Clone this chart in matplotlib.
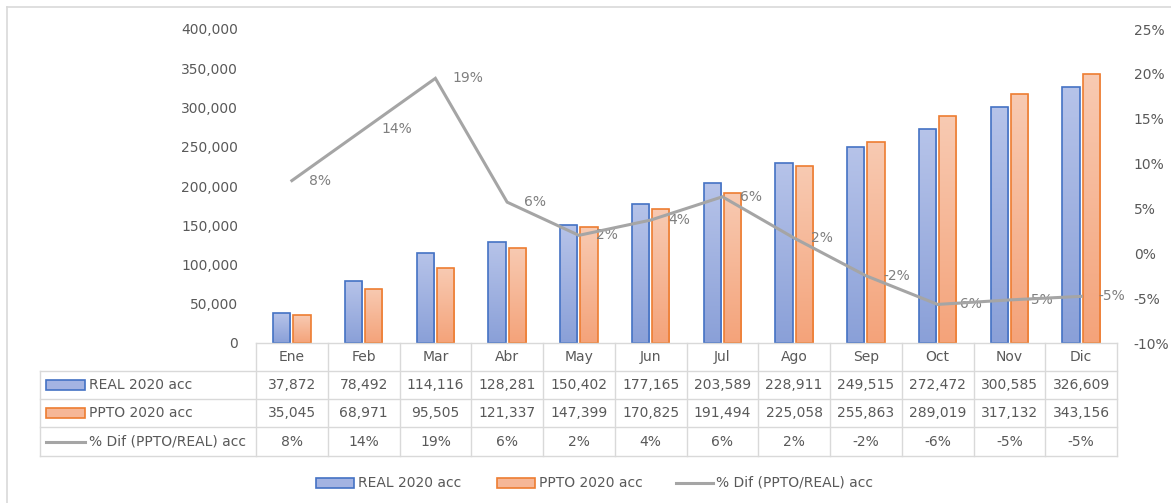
import matplotlib
matplotlib.use("Agg")
import matplotlib.pyplot as plt
import numpy as np
from matplotlib.patches import Rectangle
from matplotlib.lines import Line2D
from matplotlib.transforms import blended_transform_factory
from matplotlib.ticker import FuncFormatter, MultipleLocator

months = ["Ene", "Feb", "Mar", "Abr", "May", "Jun", "Jul", "Ago", "Sep", "Oct", "Nov", "Dic"]
real = [37872, 78492, 114116, 128281, 150402, 177165, 203589, 228911, 249515, 272472, 300585, 326609]
ppto = [35045, 68971, 95505, 121337, 147399, 170825, 191494, 225058, 255863, 289019, 317132, 343156]
pct = [8.1, 13.8, 19.5, 5.7, 2.0, 3.7, 6.3, 1.7, -2.5, -5.7, -5.2, -4.8]
pct_labels = ["8%", "14%", "19%", "6%", "2%", "4%", "6%", "2%", "-2%", "-6%", "-5%", "-5%"]
series_names = ["REAL 2020 acc", "PPTO 2020 acc", "% Dif (PPTO/REAL) acc"]

W, H = 1171, 503
plt.rcParams['font.family'] = ['DejaVu Sans']
fig = plt.figure(figsize=(W / 100, H / 100), dpi=100)

def fx(x):
    return x / W

def fy(y):
    return 1 - y / H

ax_l, ax_r, ax_t, ax_b = 256, 1117, 29, 343
ax = fig.add_axes([fx(ax_l), fy(ax_b), fx(ax_r - ax_l), (ax_b - ax_t) / H])
ax2 = ax.twinx()

TXT = "#595959"
GRID = "#d9d9d9"
BLUE_E = "#4472c4"
ORANGE_E = "#ed7d31"
LINE_C = "#a5a5a5"
blue_top, blue_bot = np.array([182, 195, 233]) / 255, np.array([138, 160, 216]) / 255
orng_top, orng_bot = np.array([248, 202, 178]) / 255, np.array([244, 163, 122]) / 255

x = np.arange(len(months))
bw = 0.24
off = 0.14
b1 = ax.bar(x - off, real, bw, facecolor="none", edgecolor=BLUE_E, linewidth=1.2, zorder=3)
b2 = ax.bar(x + off, ppto, bw, facecolor="none", edgecolor=ORANGE_E, linewidth=1.2, zorder=3)

def grad_fill(bars, top, bot):
    n = 64
    t = np.linspace(0, 1, n)[:, None]
    img = (top[None, :] * (1 - t) + bot[None, :] * t)[:, None, :]
    for p in bars:
        x0, y0 = p.get_x(), p.get_y()
        w, h = p.get_width(), p.get_height()
        im = ax.imshow(img, extent=[x0, x0 + w, y0, y0 + h], aspect="auto",
                       origin="upper", zorder=2, interpolation="bilinear")
        im.set_clip_path(p)

grad_fill(b1, blue_top, blue_bot)
grad_fill(b2, orng_top, orng_bot)

ax.set_xlim(-0.5, len(months) - 0.5)
ax.set_ylim(0, 400000)
ax.yaxis.set_major_locator(MultipleLocator(50000))
ax.yaxis.set_major_formatter(FuncFormatter(lambda v, p: f"{int(v):,}"))
ax.set_xticks([])
for s in ax.spines.values():
    s.set_visible(False)
for s in ax2.spines.values():
    s.set_visible(False)
ax.tick_params(axis="y", length=0, pad=13, labelsize=10, labelcolor=TXT)

ax2.plot(x, pct, color=LINE_C, linewidth=2.2, zorder=5, solid_joinstyle="miter")
ax2.set_ylim(-10, 25)
ax2.yaxis.set_major_locator(MultipleLocator(5))
ax2.yaxis.set_major_formatter(FuncFormatter(lambda v, p: f"{int(round(v))}%"))
ax2.tick_params(axis="y", length=0, pad=12, labelsize=10, labelcolor=TXT)
for xi, v, lab in zip(x, pct, pct_labels):
    ax2.annotate(lab, (xi, v), xytext=(12.5, 0), textcoords="offset points",
                 va="center", ha="left", fontsize=10, color="#7f7f7f",
                 annotation_clip=False)

# ---- data table ----
tr = blended_transform_factory(ax.transData, fig.transFigure)
rows_y = [343, 371, 399, 427, 456]
lab_left = 40
n = len(months)
fig.add_artist(Line2D([-0.5, n - 0.5], [fy(rows_y[0])] * 2, transform=tr, color=GRID, lw=1))
for yy in rows_y[1:]:
    fig.add_artist(Line2D([fx(lab_left), fx(ax_r)], [fy(yy)] * 2, color=GRID, lw=1))
for i in range(n + 1):
    fig.add_artist(Line2D([i - 0.5, i - 0.5], [fy(rows_y[0]), fy(rows_y[-1])], transform=tr, color=GRID, lw=1))
fig.add_artist(Line2D([fx(lab_left)] * 2, [fy(rows_y[1]), fy(rows_y[-1])], color=GRID, lw=1))

centers = [(rows_y[k] + rows_y[k + 1]) / 2 for k in range(4)]
for i, m in enumerate(months):
    fig.text(i, fy(centers[0]), m, transform=tr, ha="center", va="center", fontsize=10, color=TXT)
    fig.text(i, fy(centers[1]), f"{real[i]:,}", transform=tr, ha="center", va="center", fontsize=10, color=TXT)
    fig.text(i, fy(centers[2]), f"{ppto[i]:,}", transform=tr, ha="center", va="center", fontsize=10, color=TXT)
    fig.text(i, fy(centers[3]), pct_labels[i], transform=tr, ha="center", va="center", fontsize=10, color=TXT)

def key(xl, xr, yc, kind, hh=10):
    if kind == 0:
        fig.add_artist(Rectangle((fx(xl), fy(yc + hh / 2)), fx(xr - xl), hh / H,
                                 facecolor="#a3b3e2", edgecolor=BLUE_E, lw=1.2))
    elif kind == 1:
        fig.add_artist(Rectangle((fx(xl), fy(yc + hh / 2)), fx(xr - xl), hh / H,
                                 facecolor="#f6b797", edgecolor=ORANGE_E, lw=1.2))
    else:
        fig.add_artist(Line2D([fx(xl), fx(xr)], [fy(yc)] * 2, color=LINE_C, lw=2.2))

for k in range(3):
    key(46, 85, centers[k + 1], k)
    fig.text(fx(89), fy(centers[k + 1]), series_names[k], ha="left", va="center", fontsize=10, color=TXT)

# ---- bottom legend ----
leg_y = 483
leg_items = [(316, 354, 358), (497, 535, 539), (676, 713, 716)]
for k, (a, b, t) in enumerate(leg_items):
    key(a, b, leg_y, k, hh=10)
    fig.text(fx(t), fy(leg_y), series_names[k], ha="left", va="center", fontsize=10, color=TXT)

# ---- chart border ----
fig.add_artist(Line2D([fx(7), fx(7)], [fy(7), 0], color=GRID, lw=1.2))
fig.add_artist(Line2D([fx(7), 1], [fy(7), fy(7)], color=GRID, lw=1.2))

fig.savefig("out.png", dpi=100)
